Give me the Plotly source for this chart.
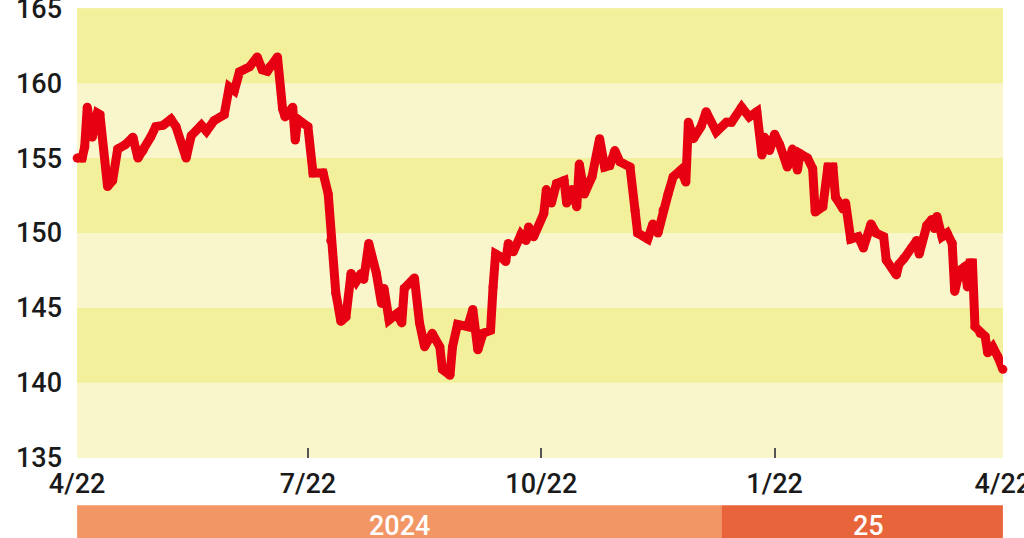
import plotly.graph_objects as go

# 円相場（1ドル=円）の推移
dates = [
    "2024-04-22", "2024-04-24", "2024-04-25", "2024-04-26", "2024-04-28", "2024-04-30",
    "2024-05-01", "2024-05-04", "2024-05-06", "2024-05-08", "2024-05-11", "2024-05-14",
    "2024-05-16", "2024-05-18", "2024-05-21", "2024-05-23", "2024-05-26", "2024-05-29",
    "2024-05-31", "2024-06-04", "2024-06-06", "2024-06-10", "2024-06-12", "2024-06-15",
    "2024-06-19", "2024-06-21", "2024-06-23", "2024-06-25", "2024-06-29", "2024-07-02",
    "2024-07-04", "2024-07-06", "2024-07-07", "2024-07-10", "2024-07-12", "2024-07-13",
    "2024-07-16", "2024-07-17", "2024-07-18", "2024-07-22", "2024-07-24", "2024-07-28",
    "2024-07-30", "2024-07-31", "2024-08-02", "2024-08-04", "2024-08-06", "2024-08-08",
    "2024-08-10", "2024-08-12", "2024-08-13", "2024-08-15", "2024-08-18", "2024-08-20",
    "2024-08-21", "2024-08-23", "2024-08-26", "2024-08-28", "2024-08-29", "2024-09-02",
    "2024-09-04", "2024-09-06", "2024-09-09", "2024-09-12", "2024-09-13", "2024-09-16",
    "2024-09-17", "2024-09-19", "2024-09-23", "2024-09-25", "2024-09-27", "2024-09-29",
    "2024-10-02", "2024-10-03", "2024-10-04", "2024-10-06", "2024-10-08", "2024-10-09",
    "2024-10-11", "2024-10-14", "2024-10-16", "2024-10-17", "2024-10-19", "2024-10-23",
    "2024-10-24", "2024-10-26", "2024-10-28", "2024-10-31", "2024-11-01", "2024-11-03",
    "2024-11-05", "2024-11-06", "2024-11-08", "2024-11-11", "2024-11-13", "2024-11-14",
    "2024-11-16", "2024-11-18", "2024-11-20", "2024-11-22", "2024-11-26", "2024-11-28",
    "2024-11-29", "2024-12-03", "2024-12-05", "2024-12-07", "2024-12-09", "2024-12-11",
    "2024-12-13", "2024-12-16", "2024-12-18", "2024-12-19", "2024-12-21", "2024-12-24",
    "2024-12-26", "2024-12-30", "2025-01-03", "2025-01-05", "2025-01-09", "2025-01-12",
    "2025-01-15", "2025-01-17", "2025-01-18", "2025-01-20", "2025-01-22", "2025-01-24",
    "2025-01-27", "2025-01-29", "2025-01-31", "2025-02-01", "2025-02-04", "2025-02-06",
    "2025-02-07", "2025-02-10", "2025-02-12", "2025-02-14", "2025-02-15", "2025-02-18",
    "2025-02-19", "2025-02-21", "2025-02-24", "2025-02-26", "2025-03-01", "2025-03-03",
    "2025-03-06", "2025-03-07", "2025-03-11", "2025-03-12", "2025-03-14", "2025-03-17",
    "2025-03-19", "2025-03-20", "2025-03-23", "2025-03-25", "2025-03-26", "2025-03-27",
    "2025-03-29", "2025-03-31", "2025-04-02", "2025-04-03", "2025-04-05", "2025-04-07",
    "2025-04-08", "2025-04-09", "2025-04-10", "2025-04-11", "2025-04-13", "2025-04-15",
    "2025-04-16", "2025-04-18", "2025-04-20", "2025-04-22",
]
rates = [
    155.0, 155.0, 155.75, 158.4, 156.4, 158.0,
    157.9, 153.1, 153.5, 155.6, 155.9, 156.4,
    155.0, 155.5, 156.4, 157.1, 157.2, 157.6,
    157.1, 155.0, 156.5, 157.2, 156.8, 157.5,
    157.9, 159.75, 159.5, 160.75, 161.1, 161.75,
    160.9, 160.8, 161.1, 161.75, 158.3, 157.75,
    158.4, 156.2, 157.6, 157.1, 154.0, 154.0,
    152.6, 149.5, 146.0, 144.1, 144.4, 147.3,
    146.75, 147.3, 146.9, 149.3, 147.3, 145.3,
    146.3, 144.2, 144.6, 144.0, 146.3, 147.0,
    144.0, 142.4, 143.3, 142.4, 140.9, 140.5,
    142.4, 143.9, 143.75, 144.9, 142.2, 143.3,
    143.5, 146.4, 148.6, 148.4, 148.1, 149.3,
    148.75, 149.9, 149.5, 150.4, 149.75, 151.3,
    152.9, 152.0, 153.3, 153.5, 152.0, 152.9,
    151.75, 154.6, 152.6, 153.75, 155.1, 156.3,
    154.4, 154.5, 155.5, 154.75, 154.4, 151.5,
    150.0, 149.6, 150.6, 150.0, 151.5, 152.6,
    153.75, 154.2, 153.4, 157.4, 156.3, 157.1,
    158.1, 156.75, 157.4, 157.4, 158.4, 157.75,
    158.1, 155.2, 156.4, 155.5, 156.6, 155.9,
    154.4, 155.6, 154.2, 155.3, 155.0, 154.3,
    151.4, 151.75, 154.4, 154.4, 152.4, 151.6,
    152.0, 149.6, 149.75, 149.0, 150.6, 150.0,
    149.75, 148.2, 147.2, 147.9, 148.3, 149.0,
    149.5, 148.6, 150.5, 150.9, 150.3, 151.1,
    149.75, 150.0, 149.3, 146.1, 147.5, 147.75,
    146.4, 148.0, 148.0, 143.75, 143.3, 143.1,
    142.0, 142.4, 141.75, 140.9,
]

tick_dates = ["2024-04-22", "2024-07-22", "2024-10-22", "2025-01-22", "2025-04-22"]
tick_labels = ["4/22", "7/22", "10/22", "1/22", "4/22"]
y_ticks = [135, 140, 145, 150, 155, 160, 165]

year_labels = ["2024", "25"]
year_starts = ["2024-04-22", "2025-01-01"]
year_ends = ["2025-01-01", "2025-04-22"]
year_mids = ["2024-08-27", "2025-02-28"]
year_colors = ["#f29666", "#e8643a"]

band_lows = [160, 150, 140]

FONT = "Roboto"

fig = go.Figure()
# markers at each point give the thick line rounded joins
fig.add_trace(
    go.Scatter(
        x=dates,
        y=rates,
        mode="lines+markers",
        line=dict(color="#e60012", width=9),
        marker=dict(color="#e60012", size=9, line_width=0),
        hoverinfo="x+y",
        cliponaxis=False,
    )
)

for lo in band_lows:
    fig.add_shape(
        type="rect", xref="paper", yref="y",
        x0=0, x1=1, y0=lo, y1=lo + 5,
        fillcolor="#f3f09b", line_width=0, layer="below",
    )

for label, x0, x1, mid, color in zip(year_labels, year_starts, year_ends, year_mids, year_colors):
    fig.add_shape(
        type="rect", xref="x", yref="paper",
        x0=x0, x1=x1, y0=-0.22, y1=-0.105,
        fillcolor=color, line_width=0,
    )
    fig.add_annotation(
        x=mid, y=-0.112, xref="x", yref="paper",
        text=label, showarrow=False, yanchor="top",
        font=dict(family=FONT, size=27, color="white", weight=500),
    )

fig.update_layout(
    width=1024,
    height=538,
    margin=dict(l=77, r=21, t=8, b=80, autoexpand=False),
    plot_bgcolor="#f8f6ca",
    paper_bgcolor="white",
    showlegend=False,
    font=dict(family=FONT, size=27, color="#1a1a1a", weight=500),
)

fig.update_xaxes(
    type="date",
    range=["2024-04-21 23:00", "2025-04-22 01:00"],
    tickmode="array",
    tickvals=tick_dates,
    ticktext=tick_labels,
    ticks="inside",
    ticklen=10,
    tickwidth=1.5,
    tickcolor="#555555",
    showgrid=False,
    zeroline=False,
    showline=False,
    automargin=False,
    ticklabeloverflow="allow",
    ticklabelstandoff=7,
)

fig.update_yaxes(
    range=[134.98, 165.02],
    tickmode="array",
    tickvals=y_ticks,
    showgrid=False,
    zeroline=False,
    showline=False,
    ticks="",
    automargin=False,
    ticklabeloverflow="allow",
    ticklabelstandoff=14,
)

fig.write_html(
    "out.html",
    config={"displayModeBar": False},
    post_script="document.body.style.margin='0';",
)
